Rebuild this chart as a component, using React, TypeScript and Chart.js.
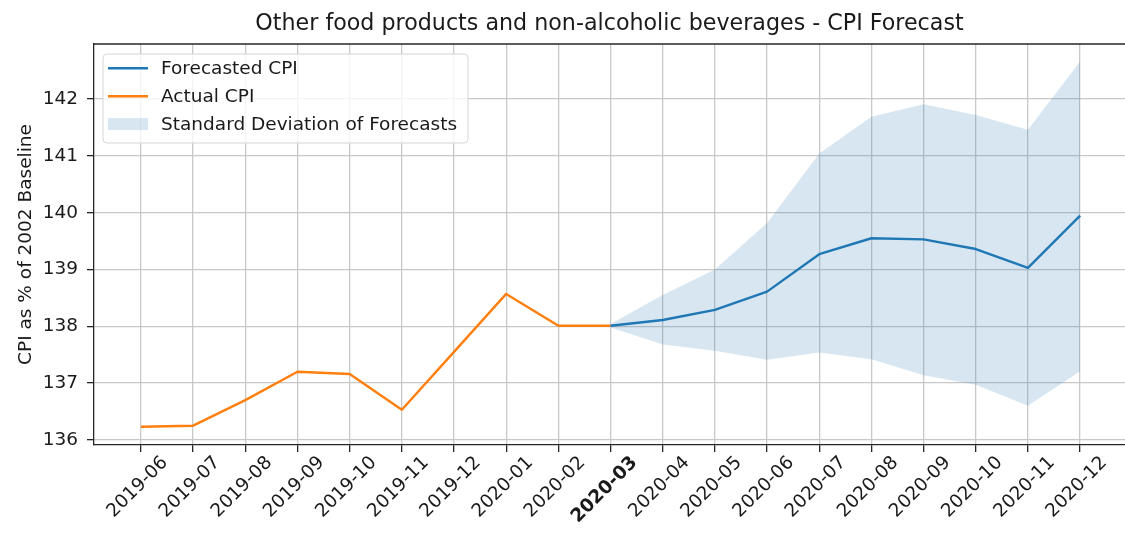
import React, { useEffect, useRef } from 'react';
import { Chart, registerables } from 'chart.js';

Chart.register(...registerables);

// ---- Data ----
const months = [
  '2019-06', '2019-07', '2019-08', '2019-09', '2019-10', '2019-11', '2019-12',
  '2020-01', '2020-02', '2020-03', '2020-04', '2020-05', '2020-06', '2020-07',
  '2020-08', '2020-09', '2020-10', '2020-11', '2020-12',
];
const actualStart = 0; // 2019-06
const actualCPI = [136.23, 136.25, 136.7, 137.2, 137.16, 136.53, 137.55, 138.57, 138.01, 138.01];
const forecastStart = 9; // 2020-03
const forecastCPI = [138.01, 138.11, 138.29, 138.61, 139.27, 139.55, 139.53, 139.36, 139.03, 139.95];
const upperBand = [138.04, 138.55, 139.0, 139.82, 141.04, 141.69, 141.91, 141.72, 141.46, 142.66];
const lowerBand = [137.98, 137.68, 137.57, 137.41, 137.54, 137.42, 137.14, 136.97, 136.6, 137.21];
const yTicks = [136, 137, 138, 139, 140, 141, 142];

const TITLE = 'Other food products and non-alcoholic beverages - CPI Forecast';
const Y_TITLE = 'CPI as % of 2002 Baseline';
const BLUE = '#1f77b4';
const ORANGE = '#ff7f0e';
const BAND = 'rgba(31,119,180,0.18)';
const FONT = 'DejaVu Sans';
const TEXT = '#1a1a1a';
const GRID = '#c8c8c8';
const SPINE = '#262626';
const FS = 18.5;

const toPoints = (vals: number[], start: number) => vals.map((v, i) => ({ x: start + i, y: v }));

const legendItems = [
  { label: 'Forecasted CPI', kind: 'line', color: BLUE },
  { label: 'Actual CPI', kind: 'line', color: ORANGE },
  { label: 'Standard Deviation of Forecasts', kind: 'patch', color: BAND },
];

const framePlugin = {
  id: 'frameAndLegend',
  afterDraw(chart: any) {
    const ctx = chart.ctx as CanvasRenderingContext2D;
    const a = chart.chartArea;
    ctx.save();
    // title centred over the axes
    ctx.fillStyle = TEXT;
    ctx.font = `22.2px "${FONT}"`;
    ctx.textAlign = 'center';
    ctx.textBaseline = 'middle';
    ctx.fillText(TITLE, (a.left + a.right) / 2, a.top - 20);

    // top spine
    ctx.strokeStyle = SPINE;
    ctx.lineWidth = 1.3;
    ctx.beginPath();
    ctx.moveTo(a.left, a.top);
    ctx.lineTo(a.right, a.top);
    ctx.stroke();

    // legend box
    const x0 = a.left + 9;
    const y0 = a.top + 10;
    const w = 365;
    const h = 89;
    const r = 4;
    ctx.beginPath();
    ctx.moveTo(x0 + r, y0);
    ctx.lineTo(x0 + w - r, y0);
    ctx.arcTo(x0 + w, y0, x0 + w, y0 + r, r);
    ctx.lineTo(x0 + w, y0 + h - r);
    ctx.arcTo(x0 + w, y0 + h, x0 + w - r, y0 + h, r);
    ctx.lineTo(x0 + r, y0 + h);
    ctx.arcTo(x0, y0 + h, x0, y0 + h - r, r);
    ctx.lineTo(x0, y0 + r);
    ctx.arcTo(x0, y0, x0 + r, y0, r);
    ctx.closePath();
    ctx.fillStyle = 'rgba(255,255,255,0.8)';
    ctx.fill();
    ctx.strokeStyle = '#d6d6d6';
    ctx.lineWidth = 1;
    ctx.stroke();

    ctx.font = `${FS}px "${FONT}"`;
    ctx.textBaseline = 'middle';
    ctx.textAlign = 'left';
    legendItems.forEach((it, i) => {
      const cy = a.top + 24.3 + i * 27.9;
      if (it.kind === 'line') {
        ctx.strokeStyle = it.color;
        ctx.lineWidth = 2.5;
        ctx.beginPath();
        ctx.moveTo(x0 + 5, cy);
        ctx.lineTo(x0 + 45, cy);
        ctx.stroke();
      } else {
        ctx.fillStyle = it.color;
        ctx.fillRect(x0 + 5, cy - 6, 40, 12);
      }
      ctx.fillStyle = TEXT;
      ctx.fillText(it.label, x0 + 58, cy + 1);
    });
    ctx.restore();
  },
};

export default function App() {
  const ref = useRef<HTMLCanvasElement | null>(null);

  useEffect(() => {
    if (!ref.current) return;
    const chart = new Chart(ref.current, {
      type: 'line',
      data: {
        datasets: [
          {
            label: 'Forecasted CPI',
            data: toPoints(forecastCPI, forecastStart),
            borderColor: BLUE,
            borderWidth: 2.4,
            pointRadius: 0,
            fill: false,
            tension: 0,
            borderJoinStyle: 'round',
          },
          {
            label: 'Actual CPI',
            data: toPoints(actualCPI, actualStart),
            borderColor: ORANGE,
            borderWidth: 2.4,
            pointRadius: 0,
            fill: false,
            tension: 0,
            borderJoinStyle: 'round',
          },
          {
            label: 'Upper',
            data: toPoints(upperBand, forecastStart),
            borderWidth: 0,
            borderColor: 'rgba(0,0,0,0)',
            backgroundColor: BAND,
            pointRadius: 0,
            fill: '+1',
            tension: 0,
          },
          {
            label: 'Lower',
            data: toPoints(lowerBand, forecastStart),
            borderWidth: 0,
            borderColor: 'rgba(0,0,0,0)',
            pointRadius: 0,
            fill: false,
            tension: 0,
          },
        ],
      },
      options: {
        animation: false,
        responsive: true,
        maintainAspectRatio: false,
        devicePixelRatio: 1,
        layout: { padding: { top: 44, left: 0, right: 0, bottom: 0 } },
        plugins: {
          legend: { display: false },
          tooltip: { enabled: false },
          title: { display: false },
        },
        scales: {
          x: {
            type: 'linear',
            min: -0.9,
            max: 18.86,
            afterBuildTicks: (axis: any) => {
              axis.ticks = months.map((_, i) => ({ value: i }));
            },
            afterFit: (scale: any) => {
              scale.height = 88;
              scale.paddingLeft = 0;
              scale.paddingRight = 0;
            },
            ticks: {
              autoSkip: false,
              maxRotation: 45,
              minRotation: 45,
              labelOffset: 24,
              padding: 0,
              color: TEXT,
              font: (ctx: any) => ({
                family: FONT,
                size: FS,
                weight: ctx.index === forecastStart ? 'bold' : 'normal',
              }),
              callback: (v: any) => months[v] ?? '',
            },
            grid: {
              color: GRID,
              lineWidth: 1.3,
              drawTicks: true,
              tickLength: 7,
              tickColor: SPINE,
              tickWidth: 1.3,
            },
            border: { display: true, color: SPINE, width: 1.3 },
          },
          y: {
            type: 'linear',
            min: 135.91,
            max: 142.97,
            afterBuildTicks: (axis: any) => {
              axis.ticks = yTicks.map((v) => ({ value: v }));
            },
            afterFit: (scale: any) => {
              scale.width = 94;
              scale.paddingTop = 0;
              scale.paddingBottom = 0;
            },
            ticks: {
              padding: 9,
              color: TEXT,
              font: { family: FONT, size: FS },
              callback: (v: any) => String(v),
            },
            grid: {
              color: GRID,
              lineWidth: 1.3,
              drawTicks: true,
              tickLength: 7,
              tickColor: SPINE,
              tickWidth: 1.3,
            },
            border: { display: true, color: SPINE, width: 1.3 },
            title: {
              display: true,
              text: Y_TITLE,
              color: TEXT,
              font: { family: FONT, size: FS },
              padding: { top: 15.5, bottom: 0 },
            },
          },
        },
      },
      plugins: [framePlugin],
    } as any);
    return () => chart.destroy();
  }, []);

  return (
    <div
      style={{
        position: 'fixed',
        left: 0,
        top: 0,
        width: 1125,
        height: 533,
        background: '#fff',
      }}
    >
      <canvas ref={ref} />
    </div>
  );
}
